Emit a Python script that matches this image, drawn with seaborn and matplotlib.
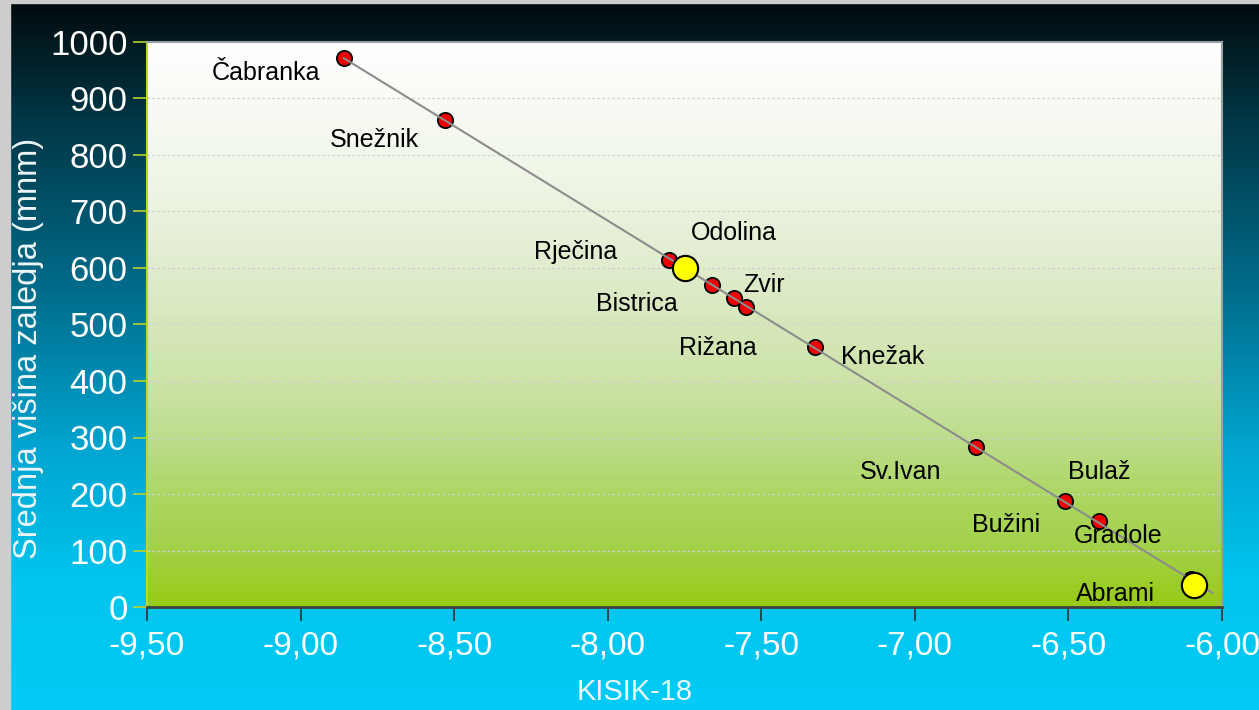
import numpy as np
import pandas as pd
import seaborn as sns
import matplotlib.pyplot as plt
from matplotlib.colors import LinearSegmentedColormap
from matplotlib.ticker import FuncFormatter, MultipleLocator
from matplotlib.patches import Rectangle

# data
stations = ["Čabranka", "Snežnik", "Rječina", "Odolina", "Bistrica", "Zvir", "Rižana",
            "Knežak", "Sv.Ivan", "Bulaž", "Gradole", "Bužini", "Abrami"]
kisik18 = [-8.86, -8.53, -7.80, -7.75, -7.66, -7.59, -7.55, -7.325, -6.80, -6.51, -6.40, -6.10, -6.09]
visina = [972, 862, 614, 600, 570, 547, 531, 460, 283, 188, 152, 49, 39]
highlight = ["Odolina", "Abrami"]

x_ticks = [-9.5, -9.0, -8.5, -8.0, -7.5, -7.0, -6.5, -6.0]

# label offsets from the point, in pixels
label_offset = {
    "Čabranka": (-78, -15), "Snežnik": (-71, -20), "Rječina": (-94, 8),
    "Odolina": (49, 35), "Bistrica": (-75, -19), "Zvir": (30, 13),
    "Rižana": (-28, -41), "Knežak": (68, -10), "Sv.Ivan": (-76, -25),
    "Bulaž": (34, 29), "Gradole": (19, -15), "Bužini": (-185, 54),
    "Abrami": (-79, -9),
}

df = pd.DataFrame({"station": stations, "kisik": kisik18, "visina": visina})
df["yellow"] = df["station"].isin(highlight)

sns.set_theme(style="white")
plt.rcParams["font.family"] = ["Liberation Sans", "DejaVu Sans"]

fig = plt.figure(figsize=(12.59, 7.10), dpi=100)

# slide background gradient
bg = fig.add_axes([0, 0, 1, 1], zorder=-10)
bg_cmap = LinearSegmentedColormap.from_list("bg", [
    (0.0, "#000a0c"), (0.17, "#003746"), (0.42, "#006f8e"),
    (0.63, "#00a4d0"), (0.82, "#00c5ee"), (1.0, "#00cbf6")])
bg.imshow(np.linspace(0, 1, 256).reshape(-1, 1), aspect="auto", cmap=bg_cmap,
          extent=[0, 1, 0, 1], origin="upper")
bg.set_axis_off()
fig.patches.append(Rectangle((0, 0), 10 / 1259, 1, transform=fig.transFigure,
                             color="#cdcdcd", zorder=-5))
fig.patches.append(Rectangle((0, 1 - 3 / 710), 1, 3 / 710, transform=fig.transFigure,
                             color="#cdcdcd", zorder=-5))

ax = fig.add_axes([147 / 1259, 1 - 607 / 710, 1075 / 1259, 565 / 710])
ax.set_facecolor("none")

# plot area gradient
area_cmap = LinearSegmentedColormap.from_list("area", [
    (0.0, "#98ca14"), (0.1, "#a2d148"), (0.2, "#add764"), (0.3, "#bddd8c"),
    (0.4, "#cde3a8"), (0.54, "#dae9c3"), (0.75, "#eff5e6"), (1.0, "#ffffff")])
ax.imshow(np.linspace(0, 1, 256).reshape(-1, 1), aspect="auto", cmap=area_cmap,
          extent=[-9.5, -6.0, 0, 1000], origin="lower", zorder=0)

ax.set_xlim(-9.5, -6.0)
ax.set_ylim(0, 1000)

# grid
for v in range(100, 1000, 100):
    ax.axhline(v, color="#d0d0d0", lw=0.9, ls=(0, (2, 2)), zorder=1)

# trend line
k, n = np.polyfit(df["kisik"], df["visina"], 1)
xl = np.array([df["kisik"].min(), df["kisik"].max() + 0.06])
sns.lineplot(x=xl, y=k * xl + n, ax=ax, color="#8c8c8c", lw=1.5, zorder=4)

red = df[~df["yellow"]]
yel = df[df["yellow"]]
sns.scatterplot(data=red, x="kisik", y="visina", ax=ax, color="#ee0000",
                edgecolor="black", linewidth=1.3, s=120, zorder=3)
sns.scatterplot(data=yel, x="kisik", y="visina", ax=ax, color="#ffff00",
                edgecolor="black", linewidth=1.5, s=330, zorder=5)

for _, r in df.iterrows():
    dx, dy = label_offset[r["station"]]
    ax.annotate(r["station"], (r["kisik"], r["visina"]), xytext=(dx, dy),
                textcoords="offset pixels", ha="center", va="center",
                fontsize=18, color="black", zorder=6)

ax.set_xticks(x_ticks)
ax.xaxis.set_major_formatter(FuncFormatter(lambda v, p: f"{v:.2f}".replace(".", ",")))
ax.yaxis.set_major_locator(MultipleLocator(100))
ax.tick_params(axis="y", direction="out", length=10, width=1.2, color="#b8d22a",
               labelsize=25, labelcolor="white", pad=4, left=True)
ax.tick_params(axis="x", direction="out", length=10, width=1.2, color="#303030",
               labelsize=24, labelcolor="white", pad=7, bottom=True)

ax.set_xlabel("KISIK-18", fontsize=21, color="#eef6f8", va="center")
ax.set_ylabel("Srednja višina zaledja (mnm)", fontsize=23.5, color="#eef6f8", va="center")
ax.xaxis.set_label_coords(0.454, -0.150)
ax.yaxis.set_label_coords(-0.110, 0.458)

for side in ["top", "right"]:
    ax.spines[side].set_color("#9aa2a4")
    ax.spines[side].set_linewidth(1.5)
ax.spines["left"].set_color("#c0d42a")
ax.spines["left"].set_linewidth(1.5)
ax.spines["bottom"].set_color("#404040")
ax.spines["bottom"].set_linewidth(2)
for s in ax.spines.values():
    s.set_zorder(7)

fig.savefig("out.png", dpi=100)
